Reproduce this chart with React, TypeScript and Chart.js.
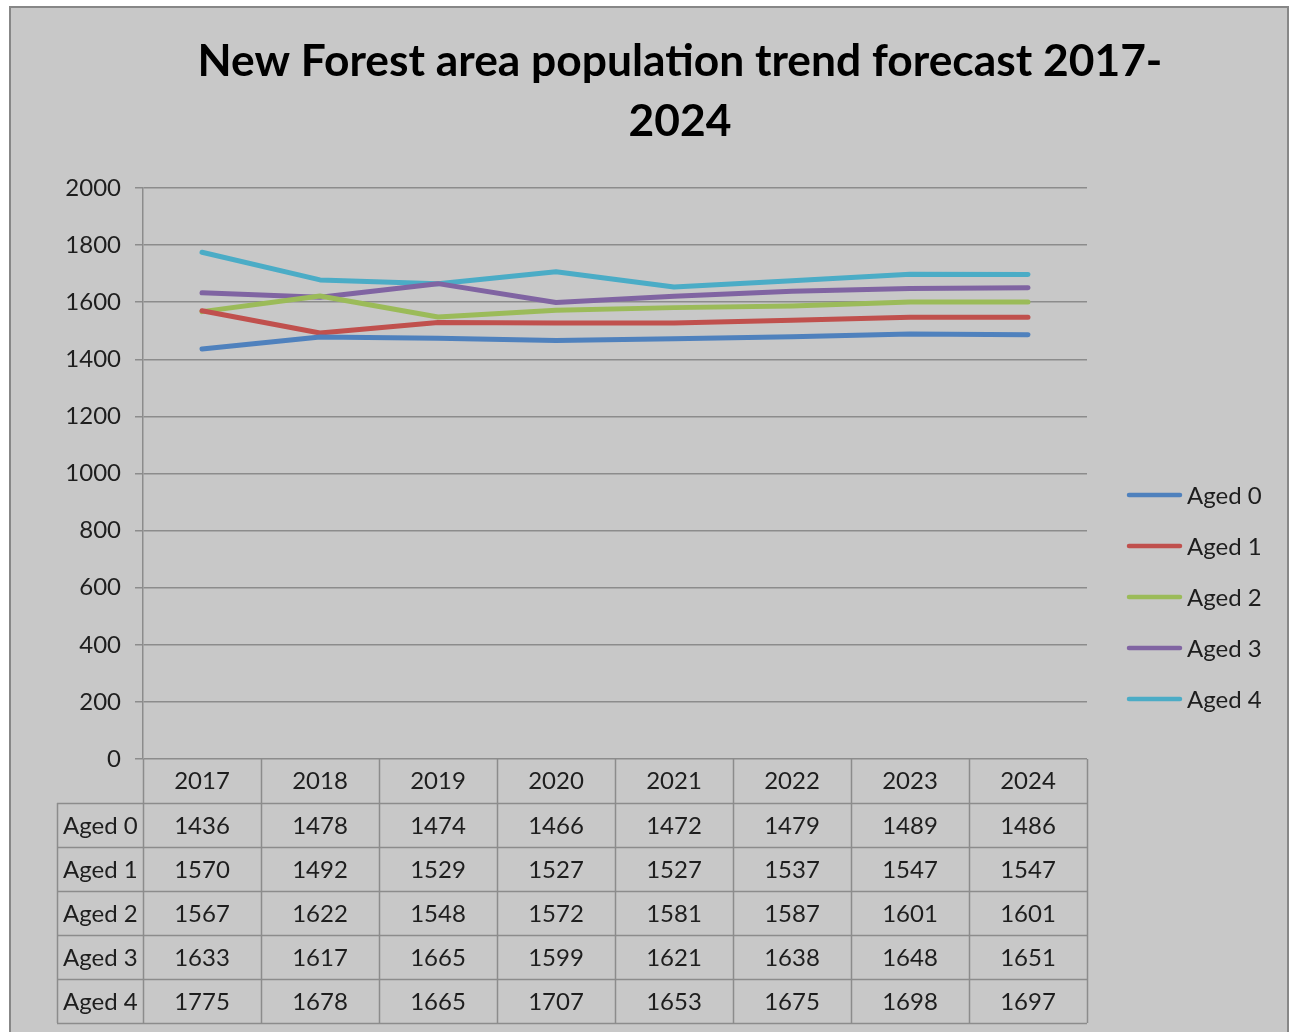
import React, { useEffect, useRef } from "react";
import { Chart, registerables } from "chart.js";

Chart.register(...registerables);

// ---- Data ----
const titleLines = ["New Forest area population trend forecast 2017-", "2024"];
const years = ["2017", "2018", "2019", "2020", "2021", "2022", "2023", "2024"];
const seriesNames = ["Aged 0", "Aged 1", "Aged 2", "Aged 3", "Aged 4"];
const aged0 = [1436, 1478, 1474, 1466, 1472, 1479, 1489, 1486];
const aged1 = [1570, 1492, 1529, 1527, 1527, 1537, 1547, 1547];
const aged2 = [1567, 1622, 1548, 1572, 1581, 1587, 1601, 1601];
const aged3 = [1633, 1617, 1665, 1599, 1621, 1638, 1648, 1651];
const aged4 = [1775, 1678, 1665, 1707, 1653, 1675, 1698, 1697];
const seriesValues = [aged0, aged1, aged2, aged3, aged4];
const seriesColors = ["#4F81BD", "#C0504D", "#9BBB59", "#8064A2", "#4BACC6"];
const yMin = 0;
const yMax = 2000;
const yStep = 200;

// ---- Style ----
const FONT = "Lato, 'Open Sans', sans-serif";
const FS = 24;
const TEXT = "#1e1e1e";
const GRID = "#8c8c8c";
const BG = "#c8c8c8";
const ROW_H = 44;
const LABEL_COL_LEFT = 57;

const decorPlugin = {
  id: "decor",
  beforeDraw(chart: any) {
    const ctx = chart.ctx;
    ctx.save();
    ctx.fillStyle = "#ffffff";
    ctx.fillRect(0, 0, chart.width, chart.height);
    ctx.fillStyle = BG;
    ctx.fillRect(10, 7, 1279, 1040);
    ctx.strokeStyle = "#878787";
    ctx.lineWidth = 2;
    ctx.strokeRect(10, 7, 1278, 1040);
    ctx.restore();
  },
  afterDraw(chart: any) {
    const ctx = chart.ctx;
    const area = chart.chartArea;
    const xs = chart.scales.x;
    ctx.save();

    // Title
    ctx.font = `bold 100px ${FONT}`;
    const w100 = ctx.measureText(titleLines[0]).width;
    const tSize = (100 * 965) / w100;
    ctx.font = `bold ${tSize}px ${FONT}`;
    ctx.fillStyle = "#000000";
    ctx.textAlign = "center";
    ctx.textBaseline = "middle";
    titleLines.forEach((t, i) => ctx.fillText(t, 680, 62 + i * 60));

    // Data table
    const half = (xs.getPixelForValue(1) - xs.getPixelForValue(0)) / 2;
    const top = area.bottom;
    const tableTop = top + ROW_H;
    const tableBottom = tableTop + ROW_H * seriesNames.length;
    ctx.strokeStyle = GRID;
    ctx.lineWidth = 1.5;
    ctx.beginPath();
    for (let i = 0; i <= years.length; i++) {
      const x = Math.round(xs.getPixelForValue(0) - half + i * 2 * half) + 0.5;
      ctx.moveTo(x, top);
      ctx.lineTo(x, tableBottom);
    }
    ctx.moveTo(LABEL_COL_LEFT + 0.5, tableTop);
    ctx.lineTo(LABEL_COL_LEFT + 0.5, tableBottom);
    for (let r = 0; r <= seriesNames.length; r++) {
      const y = Math.round(tableTop + r * ROW_H) + 0.5;
      ctx.moveTo(LABEL_COL_LEFT, y);
      ctx.lineTo(area.right, y);
    }
    ctx.stroke();

    ctx.font = `${FS}px ${FONT}`;
    ctx.fillStyle = TEXT;
    ctx.textBaseline = "middle";
    seriesNames.forEach((name, r) => {
      const cy = tableTop + r * ROW_H + ROW_H / 2 + 1;
      ctx.textAlign = "left";
      ctx.fillText(name, LABEL_COL_LEFT + 6, cy);
      ctx.textAlign = "center";
      seriesValues[r].forEach((v, i) => {
        ctx.fillText(String(v), xs.getPixelForValue(i), cy);
      });
    });

    // Legend
    const legendTop = 495;
    const legendGap = 51;
    seriesNames.forEach((name, i) => {
      const y = legendTop + i * legendGap;
      ctx.strokeStyle = seriesColors[i];
      ctx.lineWidth = 4.5;
      ctx.lineCap = "round";
      ctx.beginPath();
      ctx.moveTo(1129, y);
      ctx.lineTo(1180, y);
      ctx.stroke();
      ctx.fillStyle = TEXT;
      ctx.textAlign = "left";
      ctx.textBaseline = "middle";
      ctx.fillText(name, 1187, y + 1);
    });

    ctx.restore();
  },
};

export default function App() {
  const canvasRef = useRef<HTMLCanvasElement | null>(null);

  useEffect(() => {
    document.body.style.margin = "0";
    const canvas = canvasRef.current;
    if (!canvas) return;
    const chart = new Chart(canvas, {
      type: "line",
      data: {
        labels: years,
        datasets: seriesNames.map((name, i) => ({
          label: name,
          data: seriesValues[i],
          borderColor: seriesColors[i],
          backgroundColor: seriesColors[i],
          borderWidth: 5,
          pointRadius: 0,
          pointHoverRadius: 0,
          tension: 0,
          fill: false,
          borderCapStyle: "round" as const,
          borderJoinStyle: "round" as const,
        })),
      },
      options: {
        responsive: false,
        animation: false,
        devicePixelRatio: 1,
        layout: { padding: { top: 188, right: 207, bottom: 0, left: 0 } },
        plugins: {
          legend: { display: false },
          title: { display: false },
          tooltip: { enabled: false },
        },
        scales: {
          x: {
            type: "category",
            offset: true,
            grid: { display: false, drawTicks: false },
            border: { display: false },
            ticks: {
              font: { family: FONT, size: FS },
              color: TEXT,
              padding: 8,
              maxRotation: 0,
              autoSkip: false,
            },
            afterFit: (axis: any) => {
              axis.height = 273;
            },
          },
          y: {
            min: yMin,
            max: yMax,
            ticks: {
              stepSize: yStep,
              font: { family: FONT, size: FS },
              color: TEXT,
              padding: 14,
              callback: (v: any) => String(v),
            },
            grid: { color: GRID, lineWidth: 1.5, tickLength: 8, drawTicks: true },
            border: { display: true, color: GRID, width: 1.5 },
            afterFit: (axis: any) => {
              axis.width = 143;
            },
          },
        },
      },
      plugins: [decorPlugin],
    });
    return () => chart.destroy();
  }, []);

  return (
    <div style={{ position: "absolute", left: 0, top: 0, width: 1294, height: 1032 }}>
      <canvas ref={canvasRef} width={1294} height={1032} style={{ display: "block" }} />
    </div>
  );
}
